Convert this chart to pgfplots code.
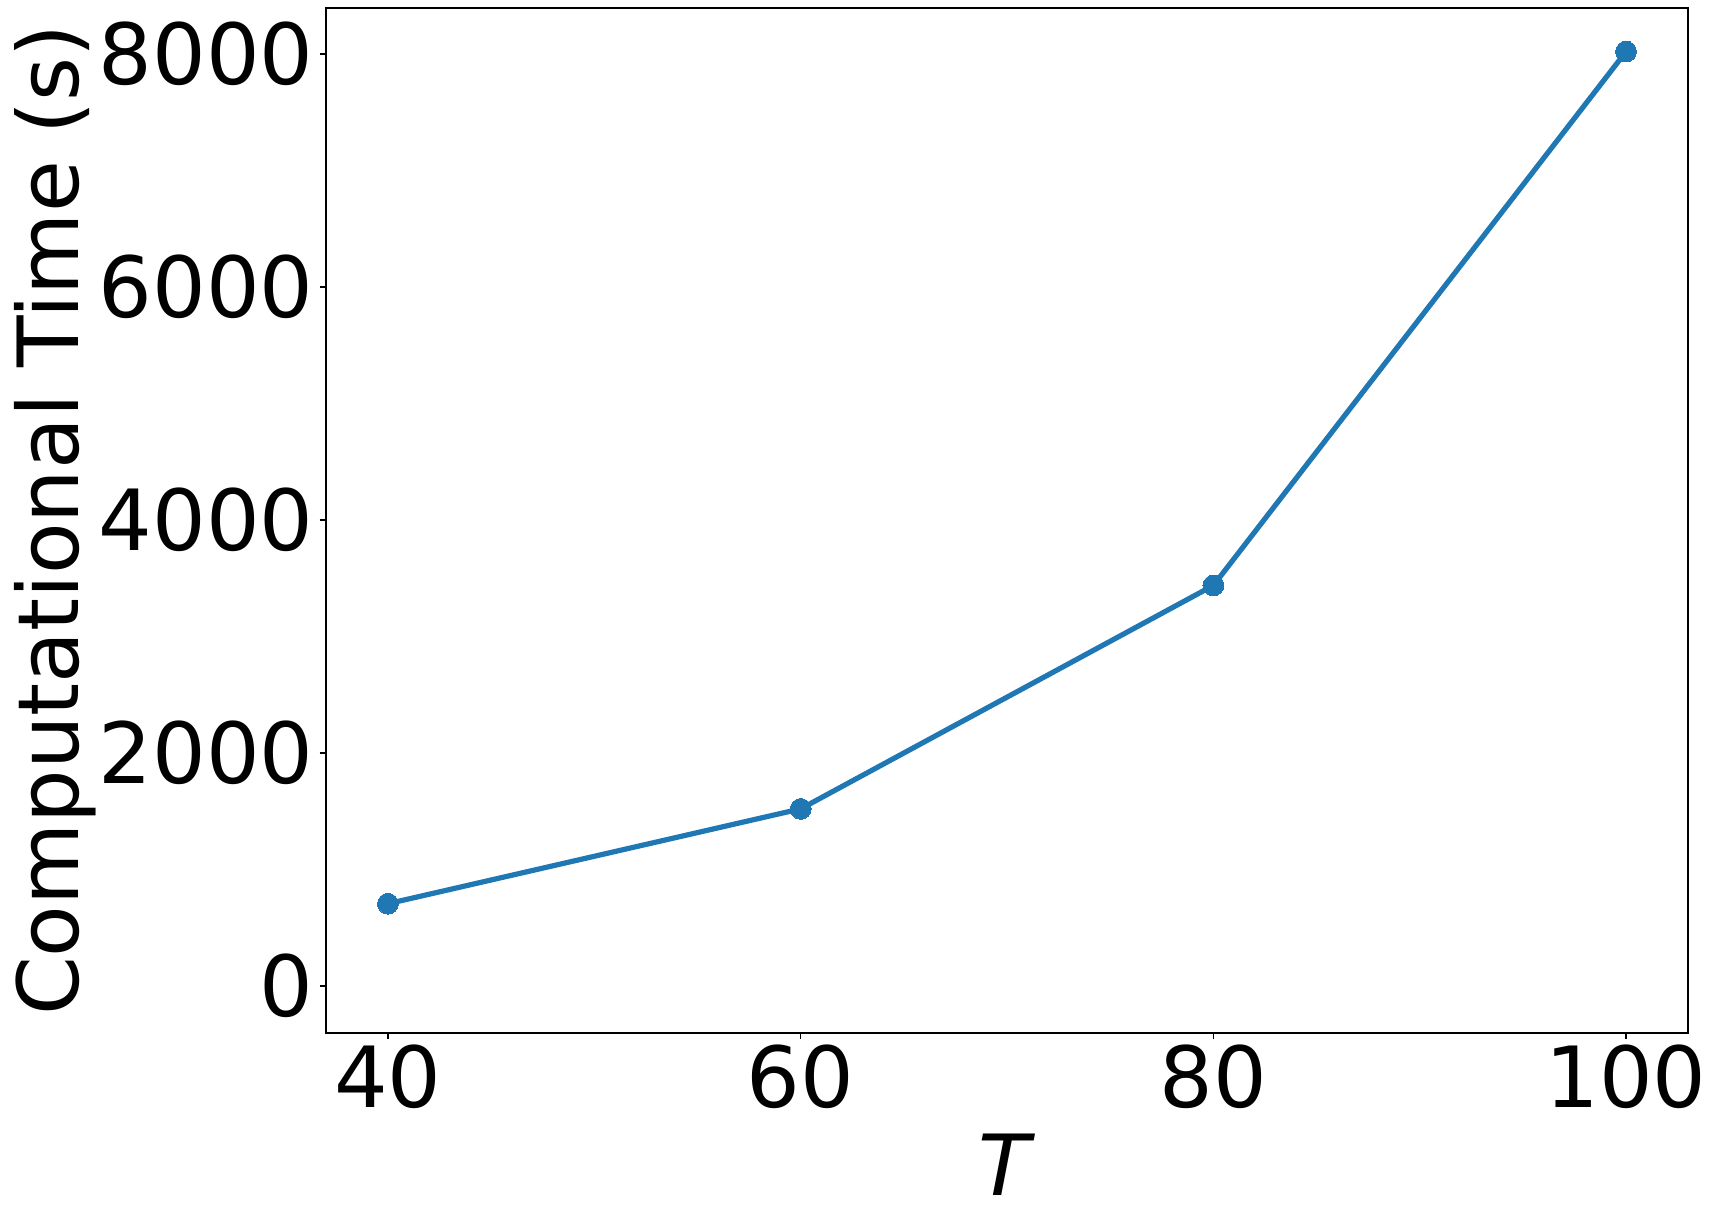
\documentclass[border=0pt]{standalone}
\usepackage{fontspec}
\setmainfont{DejaVu Sans}
\usepackage{pgfplots}
\pgfplotsset{compat=1.18}
\definecolor{tabblue}{HTML}{1F77B4}
\newcommand{\bigfont}{\fontsize{21.1}{24}\selectfont}

\begin{document}
\begin{tikzpicture}
\useasboundingbox (-81.5pt,-43.5pt) rectangle (346pt,258.2pt);
\begin{axis}[
  at={(0,0)}, anchor=south west,
  scale only axis,
  width=340.5pt, height=256.3pt,
  xmin=37, xmax=103, ymin=-400, ymax=8400,
  xtick={40,60,80,100},
  ytick={0,2000,4000,6000,8000},
  scaled y ticks=false,
  tick align=outside,
  major tick length=1.6pt,
  tick style={black, line width=0.4pt},
  xtick pos=bottom, ytick pos=left,
  axis line style={black, line width=0.5pt},
  tick label style={font=\bigfont, inner sep=0pt},
  /pgf/number format/assume math mode=true,
  /pgf/number format/set thousands separator={},
  xticklabel style={anchor=north, yshift=-1.3pt},
  yticklabel style={anchor=east, xshift=-1.3pt},
  xlabel={\textit{T}},
  ylabel={Computational Time (s)},
  xlabel style={font=\bigfont, inner sep=0pt, at={(axis description cs:0.5,0)}, anchor=north, yshift=-25pt},
  ylabel style={font=\bigfont, inner sep=0pt, at={(axis description cs:-0.182,0.5)}, anchor=base},
]
\addplot[color=tabblue, line width=1.3pt, mark=*, mark size=2.6pt,
  mark options={fill=tabblue, draw=tabblue, line width=0pt}] coordinates {
  (40,708)
  (60,1522)
  (80,3440)
  (100,8023)
};
\end{axis}
\end{tikzpicture}
\end{document}
